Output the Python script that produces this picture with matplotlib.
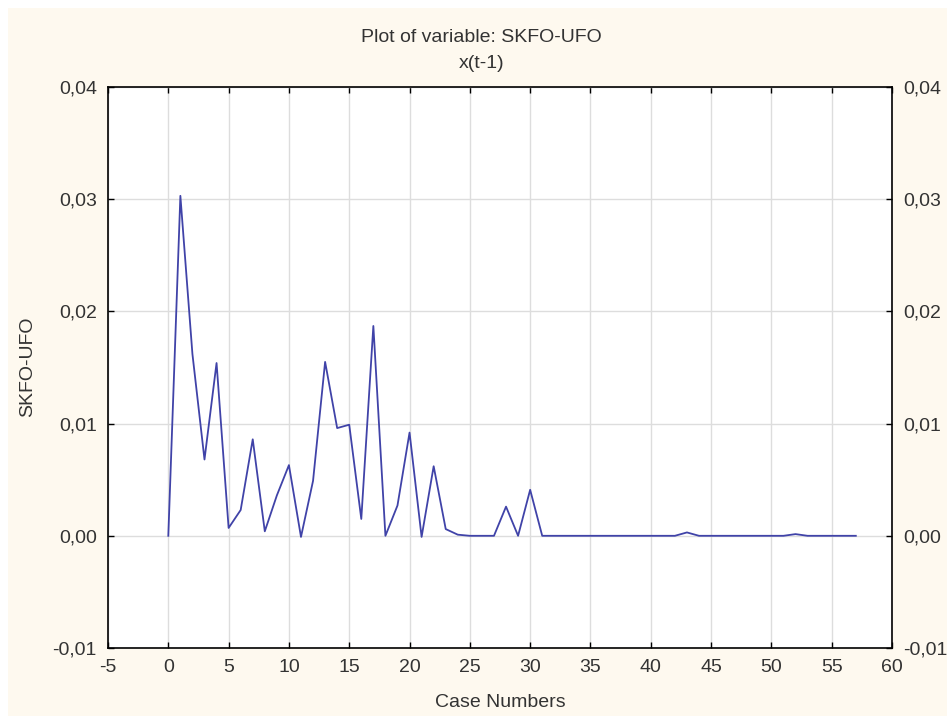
import numpy as np
import matplotlib
matplotlib.use("Agg")
from matplotlib import pyplot as plt
from matplotlib.patches import Rectangle
from matplotlib.ticker import FuncFormatter

# case numbers and values of SKFO-UFO
cases = list(range(0, 58))
values = [0.0, 0.0303, 0.0162, 0.0068, 0.0154, 0.0007, 0.0023, 0.0086, 0.0004, 0.0036,
          0.0063, -0.0001, 0.0049, 0.0155, 0.0096, 0.0099, 0.0015, 0.0187, 0.0, 0.0027,
          0.0092, -0.0001, 0.0062, 0.0006, 0.0001, 0.0, 0.0, 0.0, 0.0026, 0.0,
          0.0041, 0.0, 0.0, 0.0, 0.0, 0.0, 0.0, 0.0, 0.0, 0.0,
          0.0, 0.0, 0.0, 0.0003, 0.0, 0.0, 0.0, 0.0, 0.0, 0.0,
          0.0, 0.0, 0.00015, 0.0, 0.0, 0.0, 0.0, 0.0]

x_ticks = list(range(-5, 61, 5))
y_ticks = [-0.01, 0.0, 0.01, 0.02, 0.03, 0.04]

plt.rcParams['font.family'] = ['Liberation Sans', 'DejaVu Sans']
plt.rcParams['axes.unicode_minus'] = False
txt_color = '#333333'
bg = '#fef9ef'
fs = 14

fig = plt.figure(figsize=(9.47, 7.16), dpi=100, facecolor=bg)
# thin white strips along the top and left edge
fig.patches.append(Rectangle((0, 1 - 8 / 716), 1, 8 / 716, transform=fig.transFigure,
                             facecolor='white', edgecolor='none'))
fig.patches.append(Rectangle((0, 0), 8 / 947, 1, transform=fig.transFigure,
                             facecolor='white', edgecolor='none'))
ax = fig.add_axes([108 / 947, 1 - 648 / 716, 784 / 947, 561 / 716])
ax.set_facecolor('white')

ax.plot(cases, values, color='#4043a8', linewidth=1.3)

ax.set_xlim(-5, 60)
ax.set_ylim(-0.01, 0.04)
ax.set_xticks(x_ticks)
ax.set_yticks(y_ticks)
ax.yaxis.set_major_formatter(FuncFormatter(lambda v, p: ('%.2f' % v).replace('.', ',')))
ax.grid(True, color='#dddddd', linewidth=1)
ax.set_axisbelow(True)

ax.tick_params(direction='in', length=4, width=1, colors='black', labelcolor=txt_color,
               labelsize=fs, top=True, right=True, labelright=True)
ax.tick_params(axis='x', pad=8)
ax.tick_params(axis='y', pad=8)
for s in ax.spines.values():
    s.set_linewidth(1.2)

ax.set_xlabel('Case Numbers', fontsize=fs, color=txt_color)
ax.set_ylabel('SKFO-UFO', fontsize=fs, color=txt_color)
ax.xaxis.set_label_coords(0.5, (648 - 694) / 561)
ax.yaxis.set_label_coords((36 - 108) / 784, (648 - 367) / 561)
fig.text(0.5 + 8 / 947, 1 - 37 / 716, 'Plot of variable: SKFO-UFO', ha='center', va='center',
         fontsize=fs, color=txt_color)
fig.text(0.5 + 8 / 947, 1 - 63 / 716, 'x(t-1)', ha='center', va='center', fontsize=fs,
         color=txt_color)

plt.savefig('out.png', dpi=100, facecolor=fig.get_facecolor())
